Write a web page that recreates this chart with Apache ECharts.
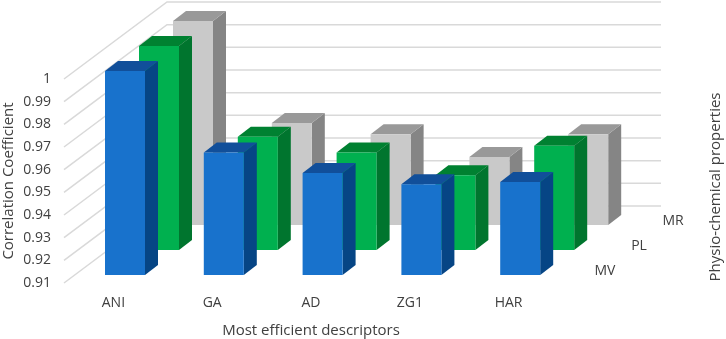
<!DOCTYPE html>
<html>
<head>
<meta charset="utf-8">
<style>html,body{margin:0;padding:0;background:#fff}#c{width:726px;height:339px}</style>
<script src="https://cdn.jsdelivr.net/npm/echarts@6/dist/echarts.min.js"></script>
</head>
<body>
<div id="c"></div>
<script>
var categories = ['ANI', 'GA', 'AD', 'ZG1', 'HAR'];
var depthNames = ['MV', 'PL', 'MR'];
var MV = [1.000, 0.964, 0.955, 0.950, 0.951];
var PL = [1.000, 0.960, 0.953, 0.943, 0.956];
var MR = [1.000, 0.955, 0.950, 0.940, 0.950];
var yTicks = [0.91, 0.92, 0.93, 0.94, 0.95, 0.96, 0.97, 0.98, 0.99, 1];
var yMin = 0.91, yMax = 1, yStep = 0.01;

var font = '"Open Sans", sans-serif';
var textColor = '#404040';
var gridLine = '#d9d9d9';
// projection of the depth axis
var depthDx = 34, depthDy = -25;
var offX = 11.6, offY = -8;
var barW = 40, capDx = 13, capDy = -10;
var wallDx = 103, wallDy = -77;

var palettes = [
  { front: '#1872cc', side: '#064585', top: '#114f9a' },
  { front: '#00b04f', side: '#00752e', top: '#008131' },
  { front: '#c9c9c9', side: '#858585', top: '#999999' }
];

function barSeries(name, values, s) {
  return {
    type: 'custom', name: name, coordinateSystem: 'cartesian2d', silent: true, clip: false,
    data: values.map(function (v, i) { return [i, v]; }),
    encode: { x: 0, y: 1 },
    z: 10 - s,
    renderItem: function (params, api) {
      var top = api.coord([api.value(0), api.value(1)]);
      var base = api.coord([api.value(0), yMin]);
      var dx = offX + depthDx * s, dy = offY + depthDy * s;
      var l = top[0] + dx - barW / 2, r = l + barW;
      var t = top[1] + dy, b = base[1] + dy;
      var c = palettes[s];
      return {
        type: 'group',
        children: [
          { type: 'polygon', shape: { points: [[r, t], [r + capDx, t + capDy], [r + capDx, b + capDy], [r, b]] }, style: { fill: c.side } },
          { type: 'polygon', shape: { points: [[l, t], [l + capDx, t + capDy], [r + capDx, t + capDy], [r, t]] }, style: { fill: c.top } },
          { type: 'rect', shape: { x: l, y: t, width: barW, height: b - t }, style: { fill: c.front } }
        ]
      };
    }
  };
}

var wallSeries = {
  type: 'custom', coordinateSystem: 'cartesian2d', silent: true, clip: false, z: 1,
  data: yTicks.map(function (v) { return [0, v]; }),
  encode: { x: 0, y: 1 },
  renderItem: function (params, api) {
    var y = api.coord([0, api.value(1)])[1];
    var cs = params.coordSys;
    return {
      type: 'polyline',
      shape: { points: [[cs.x, y], [cs.x + wallDx, y + wallDy], [cs.x + cs.width + wallDx, y + wallDy]] },
      style: { fill: null, stroke: gridLine, lineWidth: 1.5 }
    };
  }
};

var depthLabels = {
  type: 'custom', coordinateSystem: 'cartesian2d', silent: true, clip: false, z: 20,
  data: depthNames.map(function (n, i) { return [categories.length - 1, yMin, n, i]; }),
  encode: { x: 0, y: 1 },
  renderItem: function (params, api) {
    var s = api.value(3);
    var cs = params.coordSys;
    var base = api.coord([0, yMin]);
    return {
      type: 'text',
      style: {
        x: cs.x + cs.width + 47 + depthDx * s,
        y: base[1] - 12 + depthDy * s,
        text: depthNames[s],
        fill: textColor, font: '14px ' + font, align: 'center', verticalAlign: 'middle'
      }
    };
  }
};

var chart = echarts.init(document.getElementById('c'), null, { renderer: 'canvas' });
chart.setOption({
  animation: false,
  backgroundColor: '#ffffff',
  grid: { left: 64, top: 79, width: 494, height: 204, containLabel: false, outerBoundsMode: 'none' },
  xAxis: {
    type: 'category', data: categories,
    name: 'Most efficient descriptors', nameLocation: 'middle', nameGap: 40, nameMoveOverlap: false,
    nameTextStyle: { color: textColor, fontSize: 15, fontFamily: font },
    axisLine: { show: false }, axisTick: { show: false }, splitLine: { show: false },
    axisLabel: { color: textColor, fontSize: 14, fontFamily: font, margin: 13 }
  },
  yAxis: {
    type: 'value', min: yMin, max: yMax, interval: yStep,
    name: 'Correlation Coefficient', nameLocation: 'middle', nameGap: 48, nameRotate: 90, nameMoveOverlap: false,
    nameTextStyle: { color: textColor, fontSize: 15, fontFamily: font },
    axisLine: { show: false }, axisTick: { show: false }, splitLine: { show: false },
    axisLabel: { color: textColor, fontSize: 14, fontFamily: font, margin: 13 }
  },
  graphic: [{
    type: 'text', x: 716, y: 187, rotation: Math.PI / 2,
    style: { text: 'Physio-chemical properties', fill: textColor, font: '15px ' + font, align: 'center', verticalAlign: 'middle' }
  }],
  series: [wallSeries, barSeries('MR', MR, 2), barSeries('PL', PL, 1), barSeries('MV', MV, 0), depthLabels]
});
</script>
</body>
</html>
